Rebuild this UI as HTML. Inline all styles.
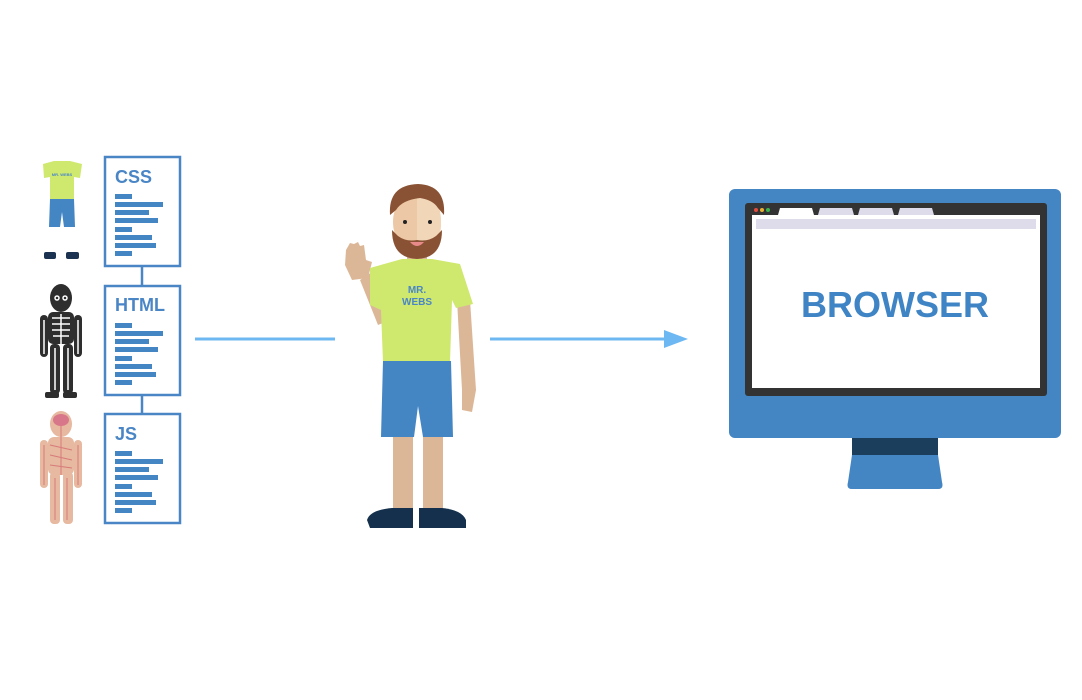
<!DOCTYPE html>
<html><head><meta charset="utf-8"><style>
html,body{margin:0;padding:0;background:#fff;}
svg{display:block;}
text{font-family:"Liberation Sans",sans-serif;font-weight:bold;}
</style></head><body>
<svg width="1082" height="700" viewBox="0 0 1082 700" xmlns="http://www.w3.org/2000/svg">
<rect width="1082" height="700" fill="#fff"/>
<!-- left figures -->
<!-- clothes -->
<path d="M43,164 L54,161 L70,161 L82,164 L80,178 L74,177 L74,200 L50,200 L50,177 L44,178 Z" fill="#cfe86e"/>
<text x="62" y="176" font-size="4" fill="#4a86c6" text-anchor="middle">MR. WEBS</text>
<path d="M50,199 L74,199 L75,227 L64,227 L62,212 L60,227 L49,227 Z" fill="#4485c4"/>
<rect x="44" y="252" width="12" height="7" rx="2" fill="#1b3350"/>
<rect x="66" y="252" width="13" height="7" rx="2" fill="#1b3350"/>
<!-- skeleton -->
<g fill="#2e2e2e">
<ellipse cx="61" cy="298" rx="11" ry="14"/>
<rect x="48" y="312" width="26" height="32" rx="5"/>
<rect x="40" y="315" width="8" height="42" rx="4"/>
<rect x="74" y="315" width="8" height="42" rx="4"/>
<rect x="50" y="344" width="10" height="50" rx="4"/>
<rect x="63" y="344" width="10" height="50" rx="4"/>
<rect x="45" y="392" width="14" height="6" rx="2"/>
<rect x="63" y="392" width="14" height="6" rx="2"/>
</g>
<g stroke="#fff" stroke-width="1.5" fill="none">
<path d="M52,318 H70 M52,324 H70 M52,330 H70 M53,336 H69 M61,314 V344 M44,320 V354 M78,320 V354 M55,348 V390 M68,348 V390"/>
<circle cx="57" cy="298" r="2"/><circle cx="65" cy="298" r="2"/>
</g>
<!-- nervous -->
<g fill="#e6b9a0">
<ellipse cx="61" cy="424" rx="11" ry="13"/>
<rect x="48" y="437" width="26" height="38" rx="6"/>
<rect x="40" y="440" width="8" height="48" rx="4"/>
<rect x="74" y="440" width="8" height="48" rx="4"/>
<rect x="50" y="472" width="10" height="52" rx="4"/>
<rect x="63" y="472" width="10" height="52" rx="4"/>
</g>
<ellipse cx="61" cy="420" rx="8" ry="6" fill="#d8778a"/>
<g stroke="#d87a7a" stroke-width="1" fill="none"><path d="M61,426 V475 M55,478 V520 M67,478 V520 M44,445 V485 M78,445 V485 M50,445 L72,450 M50,455 L72,460 M50,465 L72,468"/></g>

<!-- doc boxes -->
<g fill="none" stroke="#4a86c6" stroke-width="2.5">
<rect x="105" y="157" width="75" height="109"/>
<rect x="105" y="286" width="75" height="109"/>
<rect x="105" y="414" width="75" height="109"/>
<line x1="142" y1="266" x2="142" y2="286"/>
<line x1="142" y1="395" x2="142" y2="414"/>
</g>
<g fill="#4a86c6">
<text x="115" y="183" font-size="18">CSS</text>
<text x="115" y="311" font-size="18">HTML</text>
<text x="115" y="440" font-size="18">JS</text>
</g>
<g fill="#4485c4" id="bars">
<rect x="115" y="194" width="17" height="5"/><rect x="115" y="202" width="48" height="5"/>
<rect x="115" y="210" width="34" height="5"/><rect x="115" y="218" width="43" height="5"/>
<rect x="115" y="227" width="17" height="5"/><rect x="115" y="235" width="37" height="5"/>
<rect x="115" y="243" width="41" height="5"/><rect x="115" y="251" width="17" height="5"/>
</g>
<use href="#bars" y="129"/>
<use href="#bars" y="257"/>

<!-- arrows -->
<g stroke="#6db8f2" stroke-width="3"><line x1="195" y1="339" x2="335" y2="339"/><line x1="490" y1="339" x2="666" y2="339"/></g>
<polygon points="664,330 688,339 664,348" fill="#6db8f2"/>

<!-- person -->
<path d="M360,280 L378,325 L390,320 L372,272 Z" fill="#dcb797"/>
<path d="M346,250 L345,265 L352,280 L368,278 L372,262 L366,260 L364,245 L360,246 L358,242 L354,244 L350,243 Z" fill="#dcb797"/>
<path d="M457,300 L470,300 L476,390 L472,412 L462,410 L462,390 Z" fill="#dcb797"/>
<rect x="393" y="430" width="20" height="85" fill="#dcb797"/>
<rect x="423" y="430" width="20" height="85" fill="#dcb797"/>
<rect x="407" y="245" width="20" height="18" fill="#dcb797"/>
<path d="M402,259 L432,259 L460,264 L473,304 L456,308 L452,300 L450,362 L383,362 L381,310 L370,305 L370,268 Z" fill="#cfe86e"/>
<text x="417" y="293" font-size="10" fill="#4a86c6" text-anchor="middle">MR.</text>
<text x="417" y="305" font-size="10" fill="#4a86c6" text-anchor="middle">WEBS</text>
<path d="M383,361 L451,361 L453,437 L423,437 L418,406 L414,437 L381,437 Z" fill="#4485c4"/>
<path d="M367,520 Q370,510 392,508 L413,508 L413,528 L370,528 Z" fill="#14304c"/>
<path d="M419,508 L442,508 Q462,510 466,520 L466,528 L419,528 Z" fill="#14304c"/>
<!-- head -->
<ellipse cx="417" cy="222" rx="24" ry="30" fill="#ecc8a6"/>
<path d="M417,192 Q441,193 441,222 Q442,250 417,252 Z" fill="#f2d6b8"/>
<path d="M392,230 Q392,258 417,259 Q442,258 442,230 L436,236 Q428,242 417,240 Q406,242 398,236 Z" fill="#8a5234"/>
<path d="M390,215 Q388,185 418,184 Q446,185 444,215 L438,208 Q433,200 420,198 Q402,200 396,210 Z" fill="#8a5234"/>
<circle cx="405" cy="222" r="2" fill="#222"/><circle cx="430" cy="222" r="2" fill="#222"/>
<path d="M410,242 Q417,250 424,242 Z" fill="#e88a8a"/>

<!-- monitor -->
<rect x="729" y="189" width="332" height="249" rx="6" fill="#4485c4"/>
<rect x="745" y="203" width="302" height="193" rx="3" fill="#333"/>
<rect x="752" y="215" width="288" height="173" fill="#fff"/>
<rect x="756" y="219" width="280" height="10" fill="#dedbea"/>
<path d="M778,215 L780,208 L812,208 L814,215 Z" fill="#fff"/>
<path d="M818,215 L820,208 L852,208 L854,215 Z" fill="#dedbea"/>
<path d="M858,215 L860,208 L892,208 L894,215 Z" fill="#dedbea"/>
<path d="M898,215 L900,208 L932,208 L934,215 Z" fill="#dedbea"/>
<circle cx="756" cy="210" r="2" fill="#e04b3c"/><circle cx="762" cy="210" r="2" fill="#e8b030"/><circle cx="768" cy="210" r="2" fill="#3cb34a"/>
<text x="895" y="317" font-size="36" fill="#3f84c4" text-anchor="middle">BROWSER</text>
<rect x="852" y="438" width="86" height="17" fill="#1b3e5c"/>
<path d="M852,455 L938,455 L942,482 Q944,489 938,489 L852,489 Q846,489 848,482 Z" fill="#4485c4"/>
</svg>
</body></html>
